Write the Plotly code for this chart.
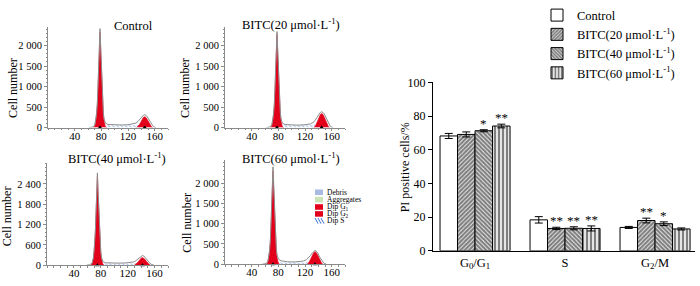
import plotly.graph_objects as go

W, H = 700, 286
FONT = "Liberation Serif"

# ---------------- Flow-cytometry histogram data ----------------
panel_titles = ["Control", "BITC(20 μmol·L<sup>-1</sup>)",
                "BITC(40 μmol·L<sup>-1</sup>)", "BITC(60 μmol·L<sup>-1</sup>)"]
hist_xticks = [40, 80, 120, 160]
y_ticks_a = [0, 500, 1000, 1500, 2000]
y_ticktext_a = ["0", "500", "1 000", "1 500", "2 000"]
y_ticks_b = [0, 600, 1200, 1800, 2400]
y_ticktext_b = ["0", "600", "1 200", "1 800", "2 400"]

# Control
ctrl_g1_x = [68, 70, 72, 73, 74, 75, 76, 77, 78, 79, 80, 81, 82, 83, 84, 86, 88]
ctrl_g1_y = [0, 30, 170, 330, 560, 900, 1380, 1900, 2330, 1900, 1380, 900, 560, 330, 170, 30, 0]
ctrl_g2_x = [133, 135, 137, 139, 141, 143, 145, 147, 149, 151, 153, 155, 157]
ctrl_g2_y = [0, 25, 70, 130, 195, 245, 265, 245, 195, 130, 70, 25, 0]
ctrl_s_x = [84, 88, 95, 105, 115, 125, 133, 139, 145, 150]
ctrl_s_y = [0, 55, 55, 50, 50, 55, 65, 70, 50, 0]
ctrl_tot_x = [62, 66, 70, 72, 73, 74, 75, 76, 77, 78, 79, 80, 81, 82, 83, 84, 86, 90, 100, 110,
              120, 128, 132, 135, 138, 141, 143, 145, 147, 149, 152, 155, 158, 162]
ctrl_tot_y = [0, 10, 50, 200, 360, 600, 940, 1430, 1960, 2410, 1960, 1430, 950, 610, 360, 220, 110, 75, 65, 65,
              70, 85, 110, 150, 210, 265, 300, 315, 300, 260, 170, 80, 25, 0]
ctrl_marks = [78, 145]

# BITC 20
b20_g1_x = [68, 70, 72, 73, 74, 75, 76, 77, 78, 79, 80, 81, 82, 83, 84, 86, 88]
b20_g1_y = [0, 30, 165, 320, 540, 870, 1340, 1840, 2270, 1840, 1340, 870, 540, 320, 165, 30, 0]
b20_g2_x = [133, 135, 137, 139, 141, 143, 145, 147, 149, 151, 153, 155, 157]
b20_g2_y = [0, 30, 90, 170, 255, 320, 345, 320, 255, 170, 90, 30, 0]
b20_s_x = [84, 88, 95, 105, 115, 125, 133, 139, 145, 150]
b20_s_y = [0, 55, 55, 50, 50, 55, 70, 75, 55, 0]
b20_tot_x = [62, 66, 70, 72, 73, 74, 75, 76, 77, 78, 79, 80, 81, 82, 83, 84, 86, 90, 100, 110,
             120, 128, 132, 135, 138, 141, 143, 145, 147, 149, 152, 155, 158, 162]
b20_tot_y = [0, 10, 50, 195, 350, 580, 910, 1390, 1900, 2340, 1900, 1390, 920, 590, 350, 220, 110, 75, 60, 60,
             70, 90, 125, 170, 250, 330, 370, 385, 370, 330, 220, 100, 30, 0]
b20_marks = [78, 145]

# BITC 40
b40_g1_x = [65, 67, 69, 70, 71, 72, 73, 74, 75, 76, 77, 78, 79, 80, 81, 83, 85]
b40_g1_y = [0, 35, 190, 370, 630, 1010, 1550, 2130, 2650, 2130, 1550, 1010, 630, 370, 190, 35, 0]
b40_g2_x = [130, 132, 134, 136, 138, 140, 142, 144, 146, 148, 150, 152, 154]
b40_g2_y = [0, 20, 60, 110, 165, 205, 225, 205, 165, 110, 60, 20, 0]
b40_s_x = [81, 85, 92, 102, 112, 122, 130, 136, 142, 147]
b40_s_y = [0, 50, 50, 45, 45, 50, 55, 60, 45, 0]
b40_tot_x = [59, 63, 67, 69, 70, 71, 72, 73, 74, 75, 76, 77, 78, 79, 80, 81, 83, 87, 97, 107,
             117, 125, 129, 132, 135, 138, 140, 142, 144, 146, 149, 152, 155, 159]
b40_tot_y = [0, 10, 55, 220, 400, 660, 1040, 1590, 2180, 2730, 2180, 1590, 1050, 670, 400, 240, 110, 70, 60, 60,
             65, 75, 95, 130, 185, 240, 270, 285, 270, 235, 155, 75, 25, 0]
b40_marks = [75, 142]

# BITC 60
b60_g1_x = [62, 64, 66, 67, 68, 69, 70, 71, 72, 73, 74, 75, 76, 77, 78, 80, 82]
b60_g1_y = [0, 30, 170, 320, 550, 890, 1350, 1870, 2300, 1870, 1350, 890, 550, 320, 170, 30, 0]
b60_g2_x = [123, 125, 127, 129, 131, 133, 135, 137, 139, 141, 143, 145, 147]
b60_g2_y = [0, 25, 80, 150, 225, 285, 310, 285, 225, 150, 80, 25, 0]
b60_s_x = [78, 82, 90, 100, 110, 118, 125, 130, 136, 141]
b60_s_y = [0, 50, 45, 40, 40, 45, 55, 60, 45, 0]
b60_tot_x = [56, 60, 64, 66, 67, 68, 69, 70, 71, 72, 73, 74, 75, 76, 77, 78, 80, 84, 94, 104,
             112, 118, 122, 125, 128, 131, 133, 135, 137, 139, 142, 145, 148, 152]
b60_tot_y = [0, 10, 50, 200, 350, 580, 920, 1400, 1930, 2400, 1930, 1400, 920, 600, 370, 240, 130, 85, 60, 55,
             60, 80, 110, 150, 210, 280, 320, 340, 320, 280, 180, 90, 30, 0]
b60_marks = [72, 135]

hist_legend_labels = ["Debris", "Aggregates", "Dip G<sub>1</sub>", "Dip G<sub>2</sub>", "Dip S"]
hist_legend_colors = ["#a9bbe3", "#c9e3b6", "#e3001b", "#e3001b", None]

# ---------------- Bar chart data ----------------
phases = ["G<sub>0</sub>/G<sub>1</sub>", "S", "G<sub>2</sub>/M"]
series_names = ["Control", "BITC(20 μmol·L<sup>-1</sup>)",
                "BITC(40 μmol·L<sup>-1</sup>)", "BITC(60 μmol·L<sup>-1</sup>)"]
ctrl_vals = [68.2, 18.4, 13.9]
ctrl_err = [1.5, 1.9, 0.6]
ctrl_sig = ["", "", ""]
b20_vals = [69.1, 13.3, 18.0]
b20_err = [1.5, 0.7, 1.4]
b20_sig = ["", "**", "**"]
b40_vals = [71.3, 13.4, 16.1]
b40_err = [0.6, 0.9, 1.1]
b40_sig = ["*", "**", "*"]
b60_vals = [74.1, 13.3, 13.0]
b60_err = [1.1, 1.5, 0.6]
b60_sig = ["**", "**", ""]
bar_yticks = [0, 20, 40, 60, 80, 100]


def fx(p):
    return p / W


def fy(p):
    return 1 - p / H


fig = go.Figure()

# panel geometry (pixels): x-left, x-right, y-top, y-bottom, ymax
panels = [
    dict(x0=48, x1=168, y0=13, y1=122, ymax=2450, ticks=y_ticks_a, tt=y_ticktext_a, minor=100,
         g1=(ctrl_g1_x, ctrl_g1_y), g2=(ctrl_g2_x, ctrl_g2_y), s=(ctrl_s_x, ctrl_s_y),
         tot=(ctrl_tot_x, ctrl_tot_y), marks=ctrl_marks, title_x=133, title_y=12, ylab=(13, 79)),
    dict(x0=225, x1=345, y0=13, y1=122, ymax=2450, ticks=y_ticks_a, tt=y_ticktext_a, minor=100,
         g1=(b20_g1_x, b20_g1_y), g2=(b20_g2_x, b20_g2_y), s=(b20_s_x, b20_s_y),
         tot=(b20_tot_x, b20_tot_y), marks=b20_marks, title_x=291, title_y=10, ylab=(185, 79)),
    dict(x0=47, x1=168, y0=160, y1=271, ymax=3030, ticks=y_ticks_b, tt=y_ticktext_b, minor=120,
         g1=(b40_g1_x, b40_g1_y), g2=(b40_g2_x, b40_g2_y), s=(b40_s_x, b40_s_y),
         tot=(b40_tot_x, b40_tot_y), marks=b40_marks, title_x=117, title_y=155, ylab=(7, 218)),
    dict(x0=225, x1=345, y0=157, y1=270, ymax=2570, ticks=y_ticks_a, tt=y_ticktext_a, minor=100,
         g1=(b60_g1_x, b60_g1_y), g2=(b60_g2_x, b60_g2_y), s=(b60_s_x, b60_s_y),
         tot=(b60_tot_x, b60_tot_y), marks=b60_marks, title_x=291, title_y=155, ylab=(187, 225)),
]

annotations = []
shapes = []
RED = "#e3001b"
AX = "#8a8a8a"

for i, p in enumerate(panels):
    n = "" if i == 0 else str(i + 1)
    xa, ya = "x" + n, "y" + n
    # S-phase hatched area
    fig.add_trace(go.Scatter(x=p["s"][0], y=p["s"][1], xaxis=xa, yaxis=ya, mode="lines",
                             line=dict(width=0, color="#3a6fd8"), fill="tozeroy",
                             fillcolor="white",
                             fillpattern=dict(shape="\\", fgcolor="#3a6fd8", bgcolor="white",
                                              size=3, solidity=0.35),
                             showlegend=False, hoverinfo="skip"))
    for g in ("g1", "g2"):
        fig.add_trace(go.Scatter(x=p[g][0], y=p[g][1], xaxis=xa, yaxis=ya, mode="lines",
                                 line=dict(width=0.6, color=RED), fill="tozeroy", fillcolor=RED,
                                 showlegend=False, hoverinfo="skip"))
    fig.add_trace(go.Scatter(x=p["tot"][0], y=p["tot"][1], xaxis=xa, yaxis=ya, mode="lines",
                             line=dict(width=1, color="#8c8c8c"), showlegend=False, hoverinfo="skip"))
    fig.add_trace(go.Scatter(x=p["marks"], y=[0] * len(p["marks"]), xaxis=xa, yaxis=ya, mode="markers",
                             marker=dict(symbol="triangle-up", size=4, color="black"),
                             cliponaxis=False, showlegend=False, hoverinfo="skip"))
    fig.layout["xaxis" + n] = dict(
        domain=[fx(p["x0"]), fx(p["x1"])], range=[0, 180], anchor=ya,
        tickvals=hist_xticks, ticks="outside", ticklen=2, tickcolor=AX,
        showline=True, linecolor=AX, linewidth=1, showgrid=False, zeroline=False,
        ticklabelstandoff=-4,
        tickfont=dict(family=FONT, size=11, color="black"),
        minor=dict(ticks="outside", ticklen=1.5, tickmode="linear", tick0=0, dtick=10, tickcolor=AX))
    fig.layout["yaxis" + n] = dict(
        domain=[fy(p["y1"]), fy(p["y0"])], range=[0, p["ymax"]], anchor=xa,
        tickvals=p["ticks"], ticktext=p["tt"], ticks="outside", ticklen=3, tickcolor=AX,
        showline=True, linecolor=AX, linewidth=1, showgrid=False, zeroline=False,
        tickfont=dict(family=FONT, size=10.5, color="black"),
        minor=dict(ticks="outside", ticklen=1.5, tickmode="linear", tick0=0, dtick=p["minor"],
                   tickcolor=AX))
    annotations.append(dict(x=fx(p["title_x"]), y=fy(p["title_y"]), xref="paper", yref="paper",
                            text=panel_titles[i], showarrow=False, xanchor="center", yanchor="middle",
                            font=dict(family=FONT, size=12.5, color="black")))
    annotations.append(dict(x=fx(p["ylab"][0]), y=fy(p["ylab"][1]), xref="paper", yref="paper",
                            text="Cell number", showarrow=False, textangle=-90,
                            xanchor="center", yanchor="middle",
                            font=dict(family=FONT, size=12, color="black")))

# histogram legend (inside panel 4)
leg_rows = [192, 200, 208, 215.5, 223]
for lab, col, yy in zip(hist_legend_labels, hist_legend_colors, leg_rows):
    if col is not None:
        shapes.append(dict(type="rect", xref="paper", yref="paper",
                           x0=fx(315), x1=fx(323), y0=fy(yy + 3), y1=fy(yy - 3),
                           fillcolor=col, line=dict(width=0)))
    else:
        for dx in (0, 3, 6):
            shapes.append(dict(type="line", xref="paper", yref="paper",
                               x0=fx(315 + dx), x1=fx(318 + dx), y0=fy(yy - 3), y1=fy(yy + 3),
                               line=dict(color="#3a6fd8", width=1)))
    annotations.append(dict(x=fx(325), y=fy(yy), xref="paper", yref="paper", text=lab,
                            showarrow=False, xanchor="left", yanchor="middle",
                            font=dict(family=FONT, size=7.5, color="black")))

# ---------------- Bar chart ----------------
bar_vals = [ctrl_vals, b20_vals, b40_vals, b60_vals]
bar_errs = [ctrl_err, b20_err, b40_err, b60_err]
bar_sigs = [ctrl_sig, b20_sig, b40_sig, b60_sig]
patterns = [dict(shape=""),
            dict(shape="/", fgcolor="black", bgcolor="white", size=3, solidity=0.75),
            dict(shape="\\", fgcolor="black", bgcolor="white", size=3, solidity=0.75),
            dict(shape="|", fgcolor="black", bgcolor="white", size=4, solidity=0.6)]
for k in range(4):
    fig.add_trace(go.Bar(x=phases, y=bar_vals[k], name=series_names[k], xaxis="x5", yaxis="y5",
                         marker=dict(color="white", line=dict(color="black", width=1),
                                     pattern=patterns[k]),
                         error_y=dict(type="data", array=bar_errs[k], color="black",
                                      thickness=1, width=4),
                         hoverinfo="skip"))

BARGAP = 0.222
bw = (1 - BARGAP) / 4
for k in range(4):
    for i in range(3):
        if bar_sigs[k][i]:
            annotations.append(dict(x=i + (k - 1.5) * bw, y=bar_vals[k][i] + bar_errs[k][i],
                                    xref="x5", yref="y5", text=bar_sigs[k][i], showarrow=False,
                                    xanchor="center", yanchor="bottom", yshift=-3,
                                    font=dict(family=FONT, size=13, color="#000000")))

annotations.append(dict(x=fx(405), y=fy(165), xref="paper", yref="paper",
                        text="PI positive cells/%", showarrow=False, textangle=-90,
                        xanchor="center", yanchor="middle",
                        font=dict(family=FONT, size=12, color="black")))

fig.update_layout(
    xaxis5=dict(domain=[fx(433), fx(695)], anchor="y5", range=[-0.467, 2.444],
                showline=True, linecolor="black", linewidth=1, ticks="", showgrid=False,
                zeroline=False, tickfont=dict(family=FONT, size=12.5, color="black")),
    yaxis5=dict(domain=[fy(255.5), fy(73)], anchor="x5", range=[0, 100], tickvals=bar_yticks,
                ticks="outside", ticklen=4, tickcolor="black",
                showline=True, linecolor="black", linewidth=1, showgrid=False, zeroline=False,
                tickfont=dict(family=FONT, size=12, color="black")),
    barmode="group", bargap=BARGAP, bargroupgap=0,
    legend=dict(x=fx(537), y=1.055, xanchor="left", yanchor="top",
                font=dict(family=FONT, size=12.5, color="black"),
                bgcolor="rgba(0,0,0,0)", tracegroupgap=0, itemwidth=30),
    showlegend=True,
    annotations=annotations, shapes=shapes,
    width=W, height=H, autosize=False,
    margin=dict(l=0, r=0, t=0, b=0),
    paper_bgcolor="white", plot_bgcolor="white",
    font=dict(family=FONT, color="black"),
)

fig.write_html("out.html", config={"displayModeBar": False},
               post_script="document.body.style.margin='0px';")
